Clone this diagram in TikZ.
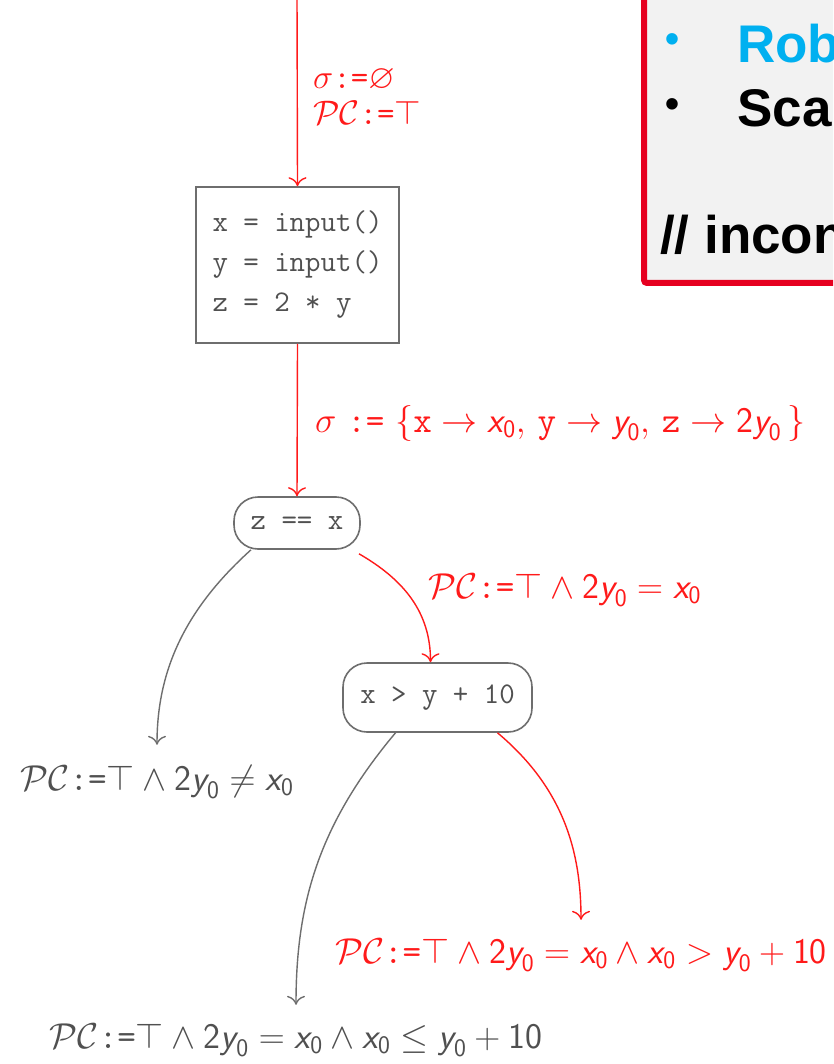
\RequirePackage{fix-cm}
\documentclass[tikz,border=0pt]{standalone}
\usepackage{amsmath,amssymb}
\usepackage{fontspec}
\newfontfamily\arialfont{Liberation Sans}
\usetikzlibrary{arrows.meta}
\definecolor{lred}{HTML}{FF1A1A}
\definecolor{lgray}{HTML}{505050}
\definecolor{lline}{HTML}{6E6E6E}
\definecolor{bred}{HTML}{E60020}
\definecolor{bfill}{HTML}{F2F2F2}
\definecolor{bcyan}{HTML}{00B0F0}
\newcommand\sv[1]{\text{\sffamily\itshape #1}}
\newcommand\sz[1]{\sv{#1}_{\text{\sffamily 0}}}
\newcommand\two{\text{\sffamily 2}}
\newcommand\asg{\texttt{:=}}
\newcommand\PC{\mathcal{PC}}
\begin{document}
\begin{tikzpicture}[x=1pt,y=-1pt,
  redarrow/.style={draw=lred, line width=1.4pt, -{Computer Modern Rightarrow[length=9pt,width=18pt]}},
  grayarrow/.style={draw=lline, line width=1.4pt, -{Computer Modern Rightarrow[length=9pt,width=18pt]}},
  codebox/.style={draw=lline, line width=1.6pt, text=lgray, font=\fontsize{30}{40}\selectfont\ttfamily, inner sep=0pt},
  pill/.style={codebox, rounded corners=24pt},
  redlab/.style={text=lred, font=\fontsize{36}{40}\selectfont, inner sep=0pt},
  graylab/.style={text=lgray, font=\fontsize{36}{40}\selectfont, inner sep=0pt},
  boxtext/.style={font=\arialfont\bfseries\fontsize{53}{60}\selectfont, inner sep=0pt},
  boxbullet/.style={font=\arialfont\bfseries\fontsize{40}{48}\selectfont, inner sep=0pt}]
\useasboundingbox (0,0) rectangle (833,1064);
\clip (0,0) rectangle (833,1064);
\fill[white] (0,0) rectangle (833,1064);

% info box (cut off)
\draw[line width=6pt, draw=bred, fill=bfill, rounded corners=3pt] (644,-30) rectangle (900,283);
\node[boxbullet, text=bcyan, anchor=center] (b1) at (672,43) {•};
\node[boxtext, text=bcyan, anchor=base west] (t1) at (737,63) {Rob};
\node[boxbullet, anchor=center] (b2) at (672,108) {•};
\node[boxtext, anchor=base west] (t2) at (737,127) {Sca};
\node[boxtext, anchor=base west] (t3) at (660,254) {// incon};

% nodes
\coordinate (start) at (297,-5);
\node[codebox, minimum width=203pt, minimum height=156pt, align=left] (init) at (297.5,265) {x = input()\\y = input()\\z = 2 * y};
\node[pill, minimum width=126pt, minimum height=52pt] (cond1) at (297,523) {z == x};
\node[pill, minimum width=189pt, minimum height=69pt] (cond2) at (437.5,697.5) {x > y + 10};

% labels
\node[redlab, font=\fontsize{34}{36}\selectfont, anchor=west, align=left] (s0) at (313,97) {$\sigma\asg\varnothing$\\$\PC\asg\top$};
\node[redlab, anchor=west] (s1) at (315,423) {$\sigma\ \asg\ \{\texttt{x}\rightarrow\sz{x},\, \texttt{y}\rightarrow\sz{y},\, \texttt{z}\rightarrow\two\sz{y}\,\}$};
\node[redlab, anchor=west] (p1) at (428,590) {$\PC\asg\top\wedge\two\sz{y}=\sz{x}$};
\node[graylab] (pneq) at (157,782) {$\PC\asg\top\wedge\two\sz{y}\neq\sz{x}$};
\node[redlab] (pgt) at (581,955) {$\PC\asg\top\wedge\two\sz{y}=\sz{x}\wedge\sz{x}>\sz{y}+\text{\sffamily 10}$};
\node[graylab] (ple) at (296,1040) {$\PC\asg\top\wedge\two\sz{y}=\sz{x}\wedge\sz{x}\leq\sz{y}+\text{\sffamily 10}$};

% connectors
\draw[redarrow] (start) -- (init.north);
\draw[redarrow] (init.south) -- (cond1.north);
\draw[grayarrow, shorten >=20pt] ([xshift=-46pt]cond1.south) to[out=222,in=90] (pneq.north);
\draw[redarrow] ([xshift=62pt,yshift=-4pt]cond1.south) to[out=-30,in=90] ([xshift=-7pt]cond2.north);
\draw[grayarrow, shorten >=18pt] ([xshift=-42pt]cond2.south) to[out=230,in=90] (ple.north);
\draw[redarrow, shorten >=18pt] ([xshift=60pt]cond2.south) to[out=-40,in=90] (pgt.north);
\end{tikzpicture}
\end{document}
